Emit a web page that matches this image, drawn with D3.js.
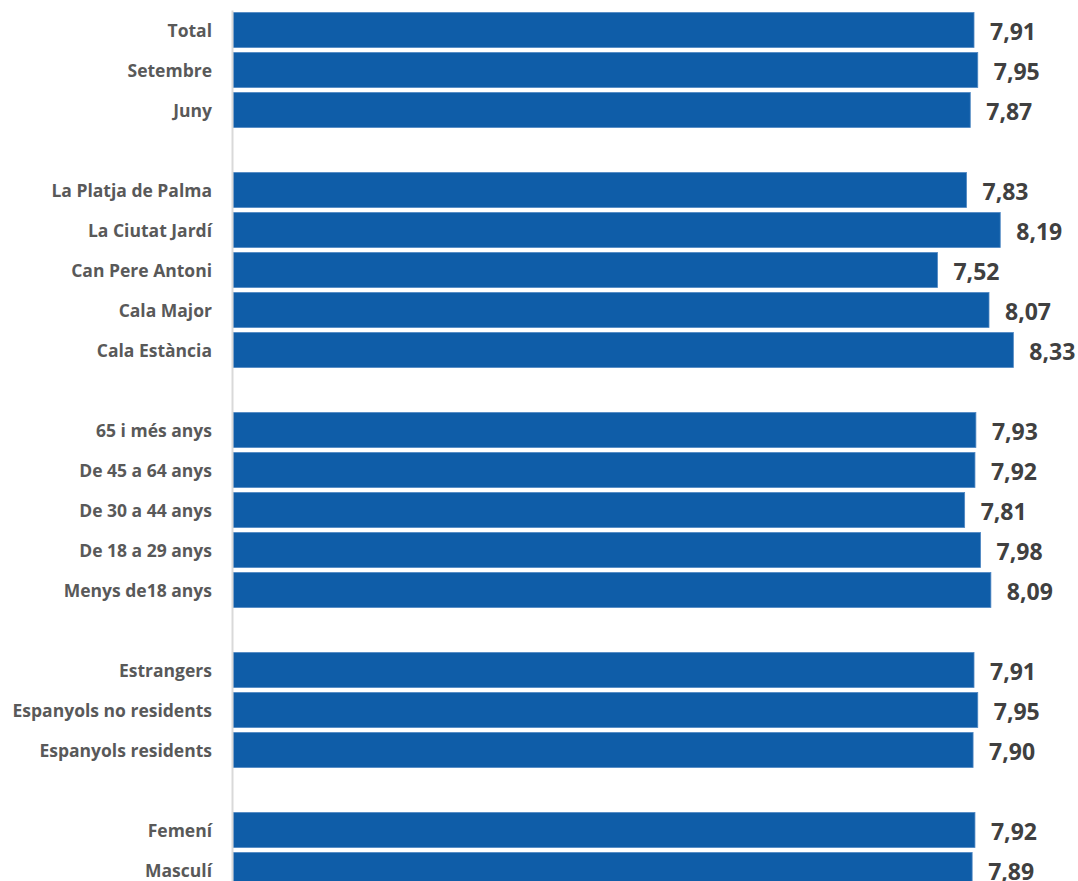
<!DOCTYPE html>
<html>
<head>
<meta charset="utf-8">
<script src="https://cdn.jsdelivr.net/npm/d3@7"></script>
<style>
html,body{margin:0;padding:0;background:#fff;overflow:hidden;}
svg{display:block;}
</style>
</head>
<body>
<svg id="chart" width="1078" height="881"></svg>
<script>
const categories = ["Total","Setembre","Juny","",
  "La Platja de Palma","La Ciutat Jardí","Can Pere Antoni","Cala Major","Cala Estància","",
  "65 i més anys","De 45 a 64 anys","De 30 a 44 anys","De 18 a 29 anys","Menys de18 anys","",
  "Estrangers","Espanyols no residents","Espanyols residents","",
  "Femení","Masculí"];
const values = [7.91,7.95,7.87,null,
  7.83,8.19,7.52,8.07,8.33,null,
  7.93,7.92,7.81,7.98,8.09,null,
  7.91,7.95,7.90,null,
  7.92,7.89];

const svg = d3.select("#chart");
const idx = d3.range(categories.length);

const y = d3.scaleBand().domain(idx).range([10, 890]).paddingInner(0.125).paddingOuter(0.0625);
const x = d3.scaleLinear().domain([0, 9]).range([233, 233 + 9 * 93.68]);

const fmt = v => v.toFixed(2).replace(".", ",");

const data = idx.filter(i => values[i] != null).map(i => ({i, v: values[i]}));

svg.append("g").selectAll("rect").data(data).join("rect")
  .attr("x", x(0))
  .attr("y", d => y(d.i))
  .attr("width", d => x(d.v) - x(0))
  .attr("height", y.bandwidth())
  .attr("fill", "#0f5da8")
  .attr("stroke", "#4f87c2")
  .attr("stroke-width", 0.8);

svg.append("g").selectAll("text").data(data).join("text")
  .attr("x", d => x(d.v) + 16)
  .attr("y", d => y(d.i) + y.bandwidth() / 2 + 9.5)
  .attr("font-family", "'Open Sans', sans-serif")
  .attr("font-weight", 700)
  .attr("font-size", 23)
  .attr("fill", "#404040")
  .text(d => fmt(d.v));

const axis = d3.axisLeft(y).tickSize(0).tickPadding(20).tickFormat(i => categories[i]);
const gA = svg.append("g").attr("transform", "translate(232,0)").call(axis);
gA.select(".domain").attr("stroke", "#d9d9d9").attr("stroke-width", 2);
gA.selectAll("text")
  .attr("font-family", "'Open Sans', sans-serif")
  .attr("font-weight", 700)
  .attr("font-size", 17.5)
  .attr("fill", "#595959")
  .attr("dy", "0.38em");
</script>
</body>
</html>
